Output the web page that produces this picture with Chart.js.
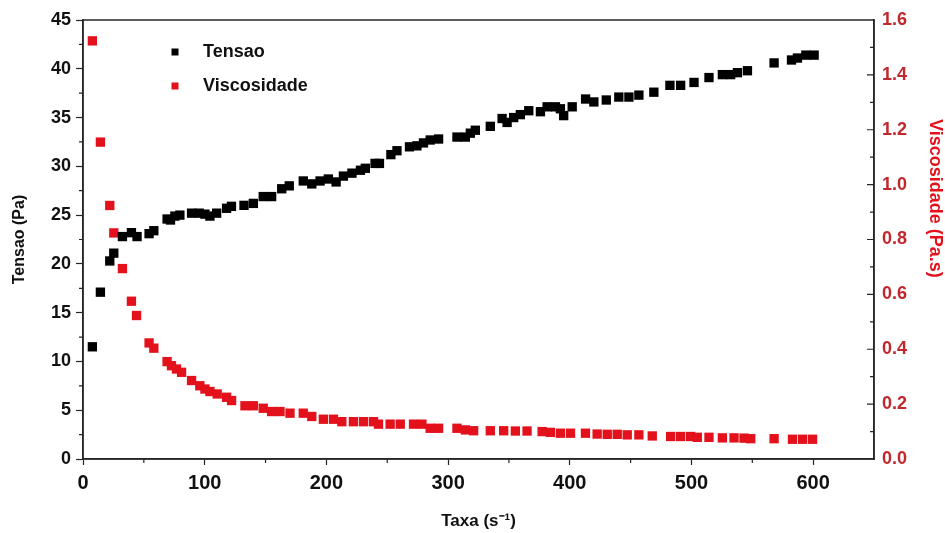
<!DOCTYPE html>
<html>
<head>
<meta charset="utf-8">
<title>Tensao e Viscosidade</title>
<script src="https://cdn.jsdelivr.net/npm/chart.js@4.4.1/dist/chart.umd.min.js"></script>
<style>
  html, body { margin: 0; padding: 0; background: #fff; }
  #chart { display: block; }
</style>
</head>
<body>
<canvas id="chart" width="945" height="533"></canvas>
<script>
// shear rate (s^-1) and shear stress (Pa)
const tensaoRate = [7.7, 14.3, 22, 25.3, 32.4, 39.8, 44.4, 54.3, 58.2, 69.1, 71.9, 75.5, 79.6, 89.2, 95.5, 100.2, 104.3, 109.8, 118, 122, 132.3, 140, 148.1, 155, 163.3, 169.5, 181, 188, 194.8, 201.6, 208, 214, 221, 228, 232, 240, 243.6, 253, 258, 268.3, 274.4, 279.8, 285.3, 292.2, 307.3, 314.2, 318.3, 322.4, 334.7, 344.4, 348.5, 353.9, 359.4, 366.3, 375.9, 381.4, 388.2, 392.3, 395, 402, 413, 419.8, 430, 440.3, 448.6, 456.8, 469.1, 482.3, 491.1, 502.1, 514.4, 525.4, 532.2, 537.8, 546, 567.9, 582.2, 587.1, 594, 600.8];
const tensaoValues = [11.5, 17.1, 20.3, 21.1, 22.8, 23.2, 22.8, 23.1, 23.4, 24.6, 24.5, 24.9, 25.0, 25.2, 25.2, 25.1, 24.9, 25.2, 25.7, 25.9, 26.0, 26.2, 26.9, 26.9, 27.7, 28.0, 28.5, 28.2, 28.5, 28.7, 28.4, 29.0, 29.3, 29.6, 29.8, 30.3, 30.3, 31.2, 31.6, 32.0, 32.1, 32.4, 32.7, 32.8, 33.0, 33.0, 33.4, 33.7, 34.1, 34.9, 34.5, 35.0, 35.3, 35.7, 35.6, 36.1, 36.1, 35.9, 35.2, 36.1, 36.9, 36.6, 36.8, 37.1, 37.1, 37.3, 37.6, 38.3, 38.3, 38.6, 39.1, 39.4, 39.4, 39.6, 39.8, 40.6, 40.9, 41.1, 41.4, 41.4];

// shear rate (s^-1) and viscosity (Pa.s)
const viscRate = [7.7, 14.3, 22, 25.3, 32.4, 39.8, 44, 54.3, 58.2, 69.1, 72.7, 76.8, 81, 89.2, 96, 100.2, 104.3, 110.3, 118, 122.1, 133.1, 140, 148.1, 155, 161.9, 170.1, 181, 188, 197.5, 205.8, 212.7, 222.2, 230.5, 238.7, 242.8, 252.4, 260.7, 271.6, 278.5, 285.3, 292.2, 307.3, 314.2, 321, 334.7, 345.7, 355.3, 364.9, 377.3, 384.1, 392.3, 400.6, 412.9, 422.5, 430.8, 439, 447.2, 456.8, 467.8, 482.9, 491.1, 499.3, 504.8, 514.4, 525.4, 535, 543.2, 548.7, 567.9, 583, 591.3, 599.5];
const viscValues = [1.524, 1.155, 0.924, 0.824, 0.694, 0.575, 0.523, 0.423, 0.404, 0.355, 0.340, 0.328, 0.316, 0.286, 0.267, 0.255, 0.246, 0.237, 0.225, 0.213, 0.194, 0.194, 0.185, 0.173, 0.173, 0.167, 0.167, 0.155, 0.145, 0.145, 0.136, 0.136, 0.136, 0.136, 0.127, 0.127, 0.127, 0.127, 0.127, 0.112, 0.112, 0.112, 0.106, 0.103, 0.103, 0.103, 0.102, 0.102, 0.100, 0.097, 0.094, 0.094, 0.094, 0.091, 0.090, 0.090, 0.088, 0.088, 0.084, 0.082, 0.082, 0.082, 0.079, 0.079, 0.077, 0.077, 0.076, 0.074, 0.074, 0.072, 0.072, 0.072];

const FONT = "'Liberation Sans', Arial, sans-serif";
const AXIS = "#262626";
const RED = "#e3111b";
const DARK_RED = "#c1272d";

const toPoints = (xs, ys) => xs.map((x, i) => ({ x: x, y: ys[i] }));

// box around the plot area plus the short minor ticks and the inward ticks of the right axis
const framePlugin = {
  id: "frame",
  afterDraw(chart) {
    const ctx = chart.ctx;
    const a = chart.chartArea;
    const xs = chart.scales.x, yl = chart.scales.y, yr = chart.scales.y1;
    ctx.save();
    ctx.strokeStyle = AXIS;
    ctx.lineWidth = 1.5;
    ctx.strokeRect(a.left, a.top, a.right - a.left, a.bottom - a.top);
    ctx.lineWidth = 1.2;
    ctx.beginPath();
    // x minor ticks (every 50)
    for (let v = 50; v < 650; v += 100) {
      const px = xs.getPixelForValue(v);
      ctx.moveTo(px, a.bottom);
      ctx.lineTo(px, a.bottom + 4);
    }
    // left minor ticks (every 2.5)
    for (let v = 2.5; v < 45; v += 5) {
      const py = yl.getPixelForValue(v);
      ctx.moveTo(a.left, py);
      ctx.lineTo(a.left - 4, py);
    }
    // right axis ticks point into the plot
    for (let i = 1; i < 16; i++) {
      const py = yr.getPixelForValue(i / 10);
      const len = i % 2 === 0 ? 7 : 4;
      ctx.moveTo(a.right, py);
      ctx.lineTo(a.right - len, py);
    }
    ctx.stroke();

    // right axis title, sits a bit above the middle of the axis
    ctx.save();
    ctx.translate(chart.width - 10, yr.getPixelForValue(0.95));
    ctx.rotate(Math.PI / 2);
    ctx.font = "bold 18px " + FONT;
    ctx.fillStyle = RED;
    ctx.textAlign = "center";
    ctx.textBaseline = "middle";
    ctx.fillText("Viscosidade (Pa.s)", 0, 0);
    ctx.restore();

    ctx.restore();
  }
};

// legend in the upper left corner of the plot
const legendPlugin = {
  id: "boxLegend",
  afterDraw(chart) {
    const ctx = chart.ctx;
    const a = chart.chartArea;
    ctx.save();
    ctx.font = "bold 18px " + FONT;
    ctx.textBaseline = "middle";
    ctx.textAlign = "left";
    chart.data.datasets.forEach((ds, i) => {
      const y = a.top + 32 + i * 34;
      const x = a.left + 92;
      ctx.fillStyle = ds.backgroundColor;
      ctx.fillRect(x - 3.5, y - 3.5, 7, 7);
      ctx.fillStyle = "#111";
      ctx.fillText(ds.label, x + 28, y);
    });
    ctx.restore();
  }
};

new Chart(document.getElementById("chart"), {
  type: "scatter",
  data: {
    datasets: [
      {
        label: "Tensao",
        data: toPoints(tensaoRate, tensaoValues),
        yAxisID: "y",
        backgroundColor: "#000",
        borderWidth: 0,
        pointStyle: "rect",
        pointRadius: 6.6,
      },
      {
        label: "Viscosidade",
        data: toPoints(viscRate, viscValues),
        yAxisID: "y1",
        backgroundColor: RED,
        borderWidth: 0,
        pointStyle: "rect",
        pointRadius: 6.6,
      },
    ],
  },
  options: {
    responsive: false,
    animation: false,
    layout: { padding: { top: 20, left: 0, right: 0, bottom: 0 } },
    plugins: {
      legend: { display: false },
      tooltip: { enabled: false },
    },
    scales: {
      x: {
        type: "linear",
        min: 0,
        max: 650,
        afterFit: (s) => { s.height = 74; },
        ticks: {
          stepSize: 100,
          includeBounds: false,
          padding: 6,
          color: "#111",
          font: { family: FONT, size: 20, weight: "bold" },
        },
        grid: { drawOnChartArea: false, tickLength: 6, color: AXIS, tickWidth: 1.2 },
        border: { color: AXIS, width: 1.5 },
        title: {
          display: true,
          text: "Taxa (s\u207B\u00B9)",
          color: "#111",
          padding: { top: 0, bottom: 1 },
          font: { family: FONT, size: 17, weight: "bold" },
        },
      },
      y: {
        type: "linear",
        position: "left",
        min: 0,
        max: 45,
        afterFit: (s) => { s.width = 83; },
        ticks: {
          stepSize: 5,
          padding: 5,
          color: "#111",
          font: { family: FONT, size: 18, weight: "bold" },
        },
        grid: { drawOnChartArea: false, tickLength: 7, color: AXIS, tickWidth: 1.2 },
        border: { color: AXIS, width: 1.5 },
        title: {
          display: true,
          text: "Tensao (Pa)",
          color: "#111",
          padding: { top: 10, bottom: 0 },
          font: { family: FONT, size: 16, weight: "bold" },
        },
      },
      y1: {
        type: "linear",
        position: "right",
        min: 0,
        max: 1.6,
        afterFit: (s) => { s.width = 71; },
        ticks: {
          stepSize: 0.2,
          padding: 8,
          color: DARK_RED,
          callback: (v) => v.toFixed(1),
          font: { family: FONT, size: 18, weight: "bold" },
        },
        grid: { display: false, drawTicks: false },
        border: { display: true, color: AXIS, width: 1.5 },
        title: { display: false },
      },
    },
  },
  plugins: [framePlugin, legendPlugin],
});
</script>
</body>
</html>
